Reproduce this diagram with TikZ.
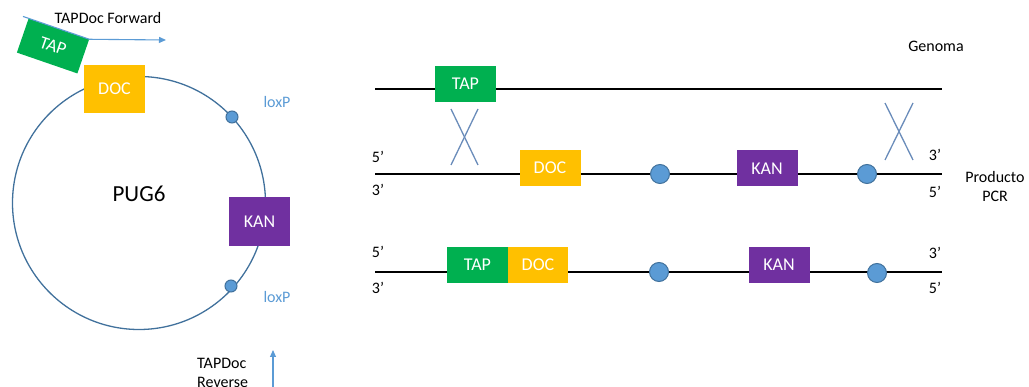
\documentclass[tikz,border=0pt]{standalone}
\usepackage{fontspec}
\setmainfont{Carlito}
\usetikzlibrary{arrows.meta,calc}
\definecolor{tapgreen}{HTML}{00B050}
\definecolor{docgold}{HTML}{FFC000}
\definecolor{kanpurple}{HTML}{7030A0}
\definecolor{loxfill}{HTML}{5B9BD5}
\definecolor{loxedge}{HTML}{41719C}
\definecolor{plasmid}{HTML}{41719C}
\definecolor{primer}{HTML}{5B9BD5}
\definecolor{crossblue}{HTML}{6A8CBA}
\tikzset{
  gene/.style={minimum width=61pt, minimum height=36pt, inner sep=0pt,
    text=white, font=\fontsize{18}{20}\selectfont},
  tapbox/.style={gene, fill=tapgreen},
  docbox/.style={gene, fill=docgold},
  kanbox/.style={gene, fill=kanpurple},
  loxdot/.style={circle, fill=loxfill, draw=loxedge, line width=1pt, inner sep=0pt, minimum size=#1},
  loxlbl/.style={font=\fontsize{16}{18}\selectfont, text=loxfill, inner sep=0pt},
  strand/.style={line width=2.8pt, black},
  crossline/.style={crossblue, line width=1.3pt},
  primerline/.style={primer, line width=1.1pt, -{Triangle[length=7pt,width=6pt]}},
  lbl/.style={font=\fontsize{16}{19}\selectfont, inner sep=0pt},
  endlbl/.style={font=\fontsize{16}{19}\selectfont, inner sep=0pt}
}
\begin{document}
\begin{tikzpicture}[x=1pt, y=-1pt]
\useasboundingbox (0,0) rectangle (1029,387);

% ---------- plasmid PUG6 ----------
\draw[plasmid, line width=1.3pt] (139,203) circle (126.5);
\node[docbox, minimum height=48pt] (pdoc) at (114.5,89) {DOC};
\node[kanbox, minimum height=49pt] (pkan) at (259.5,221.5) {KAN};
\node[loxdot=12pt] (plox1) at (232,117) {};
\node[loxdot=12pt] (plox2) at (231,286) {};
\node[loxlbl] (plbl1) at (277,102) {loxP};
\node[loxlbl] (plbl2) at (277,297) {loxP};
\node[font=\fontsize{23}{26}\selectfont, inner sep=0pt] (pname) at (139,194) {PUG6};

% forward primer carrying the TAP tail
\node[tapbox, minimum width=64pt, rotate=-19] (ptap) at (53,46) {TAP};
\coordinate (fwdstart) at ($(ptap.north west)!-0.09!(ptap.north east)$);
\coordinate (fwdend) at (166,40);
\draw[primerline] (fwdstart) -- (ptap.north east) -- (fwdend);
\node[lbl] (fwdlbl) at (108,18) {TAPDoc Forward};

% reverse primer
\coordinate (revstart) at (273,390);
\coordinate (revend) at (273,350);
\draw[primerline] (revstart) -- (revend);
\node[lbl, anchor=north west, align=left] (revlbl) at (197,358) {TAPDoc\\Reverse};

% ---------- genome ----------
\coordinate (g0) at (375,89);
\coordinate (g1) at (942,89);
\draw[strand] (g0) -- (g1);
\node[tapbox] (gtap) at (465.5,84) {TAP};
\node[lbl] (gname) at (936,46) {Genoma};

% ---------- PCR product ----------
\coordinate (p0) at (375,174);
\coordinate (p1) at (942,174);
\draw[strand] (p0) -- (p1);
\node[docbox] (pcrdoc) at (550,168) {DOC};
\node[kanbox] (pcrkan) at (767,168.5) {KAN};
\node[loxdot=19pt] (pcrlox1) at (660,174) {};
\node[loxdot=19pt] (pcrlox2) at (867,174) {};
\node[endlbl] at (378,157) {5’};
\node[endlbl] at (378,190) {3’};
\node[endlbl] at (935,155) {3’};
\node[endlbl] at (935,192) {5’};
\node[lbl, align=center] (pcrname) at (995,187) {Producto\\PCR};

% recombination crossovers
\draw[crossline] (451,109) -- (478,165);
\draw[crossline] (478,109) -- (451,165);
\draw[crossline] (885,103) -- (913,160);
\draw[crossline] (913,103) -- (885,160);

% ---------- recombined locus ----------
\coordinate (r0) at (375,272);
\coordinate (r1) at (942,272);
\draw[strand] (r0) -- (r1);
\node[tapbox] (rtap) at (477.5,265) {TAP};
\node[docbox, minimum width=60pt] (rdoc) at (538,265) {DOC};
\node[kanbox] (rkan) at (779,265) {KAN};
\node[loxdot=19pt] (rlox1) at (659,272) {};
\node[loxdot=19pt] (rlox2) at (877,273) {};
\node[endlbl] at (378,252) {5’};
\node[endlbl] at (378,288) {3’};
\node[endlbl] at (935,253) {3’};
\node[endlbl] at (935,288) {5’};
\end{tikzpicture}
\end{document}
